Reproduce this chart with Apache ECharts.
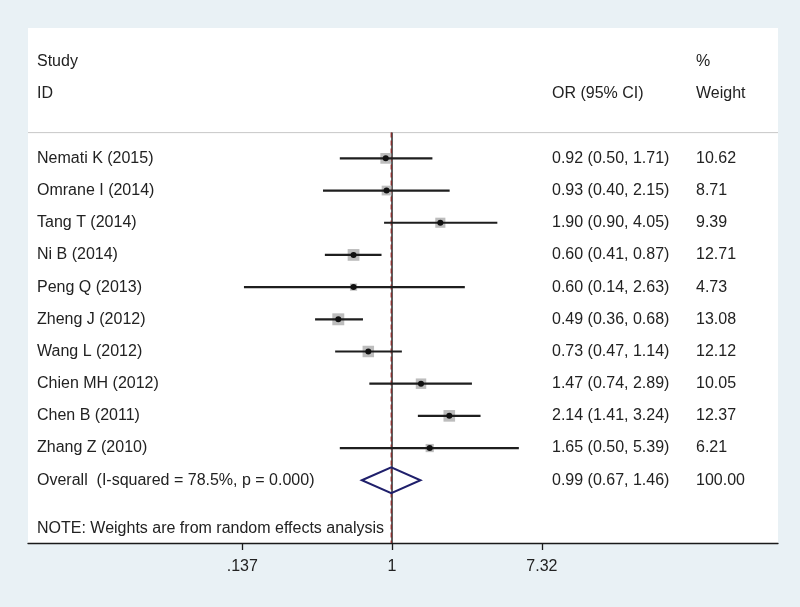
<!DOCTYPE html>
<html>
<head>
<meta charset="utf-8">
<script src="https://cdn.jsdelivr.net/npm/echarts@6/dist/echarts.min.js"></script>
<style>
html,body{margin:0;padding:0;background:#e9f1f5;}
#chart{width:800px;height:607px;}
</style>
</head>
<body>
<div id="chart"></div>
<script>
// ---- data ----
const studies = ['Nemati K (2015)', 'Omrane I (2014)', 'Tang T (2014)', 'Ni B (2014)', 'Peng Q (2013)',
  'Zheng J (2012)', 'Wang L (2012)', 'Chien MH (2012)', 'Chen B (2011)', 'Zhang Z (2010)'];
const orVals  = [0.92, 0.93, 1.90, 0.60, 0.60, 0.49, 0.73, 1.47, 2.14, 1.65];
const ciLow   = [0.50, 0.40, 0.90, 0.41, 0.14, 0.36, 0.47, 0.74, 1.41, 0.50];
const ciHigh  = [1.71, 2.15, 4.05, 0.87, 2.63, 0.68, 1.14, 2.89, 3.24, 5.39];
const weights = [10.62, 8.71, 9.39, 12.71, 4.73, 13.08, 12.12, 10.05, 12.37, 6.21];
const overallLabel = 'Overall  (I-squared = 78.5%, p = 0.000)';
const overallOR = [0.99, 0.67, 1.46];
const overallWeight = 100.00;
const tickValues = [0.137, 1, 7.32];
const tickLabels = ['.137', '1', '7.32'];
const noteText = 'NOTE: Weights are from random effects analysis';

// ---- layout constants ----
const FONT = '"Liberation Sans", Arial, Helvetica, sans-serif';
const FS = 16;
const TXT = '#222222';
const COL_STUDY = 37, COL_OR = 552, COL_W = 696;

function txt(s, x, y, align) {
  return { type: 'text', style: { text: s, x: x, y: y, fill: TXT, font: FS + 'px ' + FONT,
    align: align || 'left', verticalAlign: 'middle' } };
}
const lnTicks = tickValues.map(Math.log);

const chart = echarts.init(document.getElementById('chart'), null, { renderer: 'canvas' });

const studyData = studies.map((s, i) => [i, orVals[i], ciLow[i], ciHigh[i], weights[i]]);

chart.setOption({
  backgroundColor: '#e9f1f5',
  animation: false,
  grid: { left: 28, right: 22, top: 28, bottom: 64, show: true, backgroundColor: '#ffffff', borderWidth: 0 },
  xAxis: {
    type: 'value', min: -4.834, max: 5.126,
    splitLine: { show: false },
    axisLine: { show: true, onZero: false, lineStyle: { color: '#1a1a1a', width: 1.3 } },
    axisTick: { show: true, customValues: lnTicks, length: 7, lineStyle: { color: '#1a1a1a', width: 1.3 } },
    axisLabel: { customValues: lnTicks, margin: 16, color: TXT, fontSize: FS, fontFamily: FONT,
      formatter: function (v) {
        let best = 0;
        lnTicks.forEach((t, k) => { if (Math.abs(t - v) < Math.abs(lnTicks[best] - v)) best = k; });
        return tickLabels[best];
      } }
  },
  yAxis: { type: 'value', inverse: true, min: -4.05, max: 11.95, show: false },
  series: [
    { // header, note, rule lines
      type: 'custom', clip: false, data: [[0, 0]],
      renderItem: function (params, api) {
        const cs = params.coordSys;
        const yH = api.coord([0, -0.8])[1];
        const yBot = cs.y + cs.height;
        const x1 = api.coord([Math.log(1), 0])[0];
        const xo = api.coord([Math.log(overallOR[0]), 0])[0];
        return { type: 'group', children: [
          { type: 'line', shape: { x1: cs.x, y1: yH, x2: cs.x + cs.width, y2: yH }, style: { stroke: '#c8c8c8', lineWidth: 1 } },
          { type: 'line', shape: { x1: x1, y1: yH, x2: x1, y2: yBot }, style: { stroke: '#1a1a1a', lineWidth: 1.4 } },
          { type: 'line', shape: { x1: xo, y1: yH, x2: xo, y2: yBot }, style: { stroke: '#8b2a2a', lineWidth: 1.3, lineDash: [5, 3] } },
          txt('Study', COL_STUDY, api.coord([0, -3])[1]),
          txt('ID', COL_STUDY, api.coord([0, -2])[1]),
          txt('%', COL_W, api.coord([0, -3])[1]),
          txt('Weight', COL_W, api.coord([0, -2])[1]),
          txt('OR (95% CI)', COL_OR, api.coord([0, -2])[1]),
          txt(noteText, COL_STUDY, api.coord([0, 11.5])[1])
        ] };
      }
    },
    { // studies
      type: 'custom', clip: false, data: studyData,
      renderItem: function (params, api) {
        const i = api.value(0), or = api.value(1), lo = api.value(2), hi = api.value(3), w = api.value(4);
        const c = api.coord([Math.log(or), i]);
        const l = api.coord([Math.log(lo), i]);
        const h = api.coord([Math.log(hi), i]);
        const side = 3.3 * Math.sqrt(w);
        return { type: 'group', children: [
          { type: 'rect', shape: { x: c[0] - side / 2, y: c[1] - side / 2, width: side, height: side }, style: { fill: '#bdbdbd' } },
          { type: 'line', shape: { x1: l[0], y1: l[1], x2: h[0], y2: h[1] }, style: { stroke: '#1e1e1e', lineWidth: 2.2 } },
          { type: 'circle', shape: { cx: c[0], cy: c[1], r: 3 }, style: { fill: '#111111' } },
          txt(studies[params.dataIndex], COL_STUDY, c[1]),
          txt(or.toFixed(2) + ' (' + lo.toFixed(2) + ', ' + hi.toFixed(2) + ')', COL_OR, c[1]),
          txt(w.toFixed(2), COL_W, c[1])
        ] };
      }
    },
    { // overall
      type: 'custom', clip: false, data: [[10, overallOR[0], overallOR[1], overallOR[2], overallWeight]],
      renderItem: function (params, api) {
        const i = api.value(0), or = api.value(1), lo = api.value(2), hi = api.value(3), w = api.value(4);
        const c = api.coord([Math.log(or), i]);
        const l = api.coord([Math.log(lo), i]);
        const h = api.coord([Math.log(hi), i]);
        const hh = 13;
        return { type: 'group', children: [
          { type: 'polygon', shape: { points: [[l[0], c[1]], [c[0], c[1] - hh], [h[0], c[1]], [c[0], c[1] + hh]] },
            style: { fill: null, stroke: '#1f1f6b', lineWidth: 2 } },
          txt(overallLabel, COL_STUDY, c[1]),
          txt(or.toFixed(2) + ' (' + lo.toFixed(2) + ', ' + hi.toFixed(2) + ')', COL_OR, c[1]),
          txt(w.toFixed(2), COL_W, c[1])
        ] };
      }
    }
  ]
});
</script>
</body>
</html>
